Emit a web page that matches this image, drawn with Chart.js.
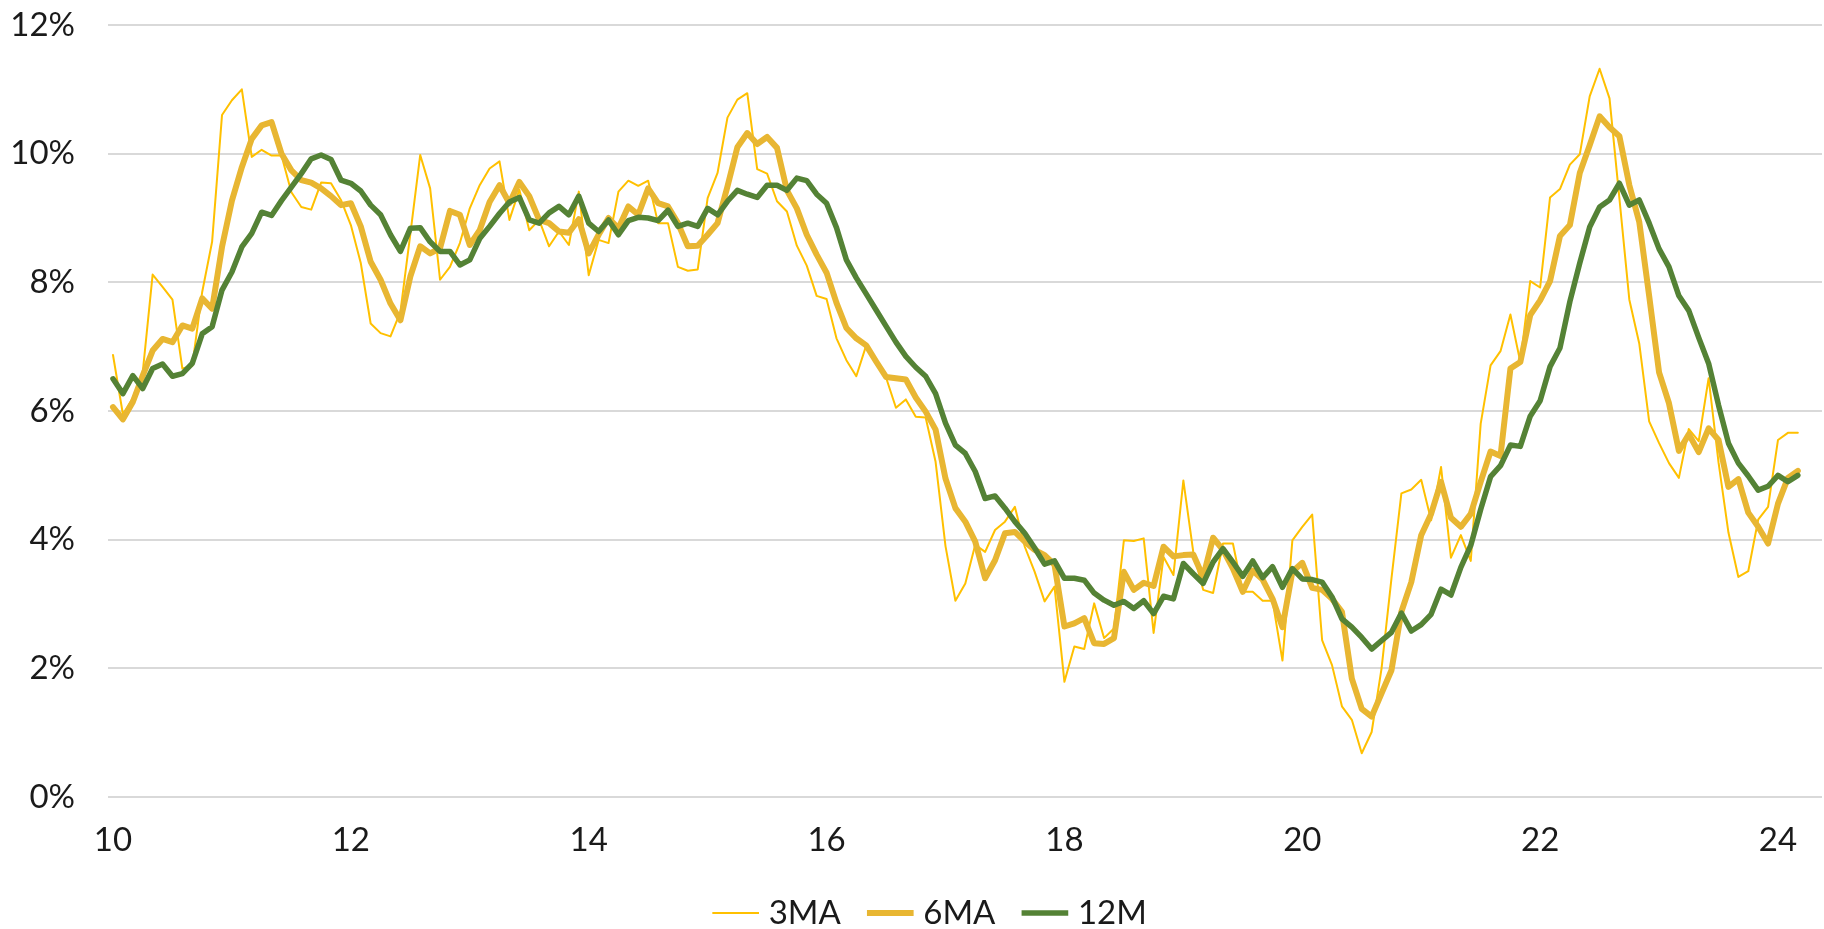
<!DOCTYPE html>
<html>
<head>
<meta charset="utf-8">
<title>3MA / 6MA / 12M</title>
<script src="https://cdn.jsdelivr.net/npm/chart.js"></script>
<style>
  html, body { margin: 0; padding: 0; background: #ffffff; }
  #chart { display: block; }
</style>
</head>
<body>
<canvas id="chart" width="1824" height="929"></canvas>
<script>
// Monthly series, first point = Jan 2010 (axis label "10")
const startYear = 10;

const series3MA = [
  6.87, 5.95, 6.20, 6.60, 8.12, 7.93, 7.73, 6.66, 6.70, 7.85,
  8.63, 10.60, 10.83, 11.00, 9.95, 10.06, 9.97, 9.97, 9.40, 9.17,
  9.13, 9.55, 9.54, 9.28, 8.89, 8.30, 7.36, 7.21, 7.16, 7.54,
  8.75, 9.98, 9.46, 8.04, 8.24, 8.61, 9.15, 9.51, 9.77, 9.88,
  8.97, 9.44, 8.81, 8.97, 8.56, 8.79, 8.58, 9.41, 8.11, 8.66,
  8.61, 9.41, 9.58, 9.50, 9.58, 8.92, 8.92, 8.24, 8.18, 8.20,
  9.31, 9.70, 10.56, 10.84, 10.94, 9.76, 9.69, 9.26, 9.10, 8.57,
  8.26, 7.79, 7.74, 7.13, 6.79, 6.54, 7.02, 6.77, 6.52, 6.05,
  6.18, 5.91, 5.90, 5.21, 3.90, 3.05, 3.32, 3.92, 3.81, 4.15,
  4.28, 4.51, 3.89, 3.50, 3.04, 3.27, 1.79, 2.34, 2.30, 3.01,
  2.47, 2.62, 3.99, 3.98, 4.02, 2.55, 3.73, 3.45, 4.92, 3.81,
  3.22, 3.17, 3.94, 3.94, 3.19, 3.19, 3.05, 3.05, 2.12, 3.99,
  4.20, 4.39, 2.44, 2.05, 1.41, 1.20, 0.68, 1.01, 2.00, 3.40,
  4.72, 4.78, 4.93, 4.30, 5.13, 3.72, 4.07, 3.67, 5.80, 6.71,
  6.93, 7.50, 6.76, 8.02, 7.92, 9.32, 9.45, 9.83, 9.99, 10.89,
  11.32, 10.86, 9.30, 7.73, 7.05, 5.84, 5.50, 5.19, 4.96, 5.72,
  5.53, 6.51, 5.20, 4.11, 3.42, 3.51, 4.31, 4.51, 5.55, 5.66, 5.66
];

const series6MA = [
  6.06, 5.87, 6.14, 6.55, 6.94, 7.12, 7.07, 7.33, 7.28, 7.75,
  7.59, 8.55, 9.27, 9.79, 10.23, 10.44, 10.49, 10.00, 9.74, 9.59,
  9.55, 9.46, 9.34, 9.20, 9.23, 8.87, 8.32, 8.04, 7.67, 7.41,
  8.09, 8.56, 8.45, 8.53, 9.11, 9.05, 8.58, 8.81, 9.25, 9.51,
  9.23, 9.56, 9.34, 8.97, 8.92, 8.79, 8.77, 8.98, 8.45, 8.74,
  9.00, 8.84, 9.18, 9.05, 9.46, 9.23, 9.18, 8.92, 8.56, 8.57,
  8.74, 8.92, 9.49, 10.10, 10.32, 10.15, 10.26, 10.09, 9.43, 9.15,
  8.74, 8.43, 8.15, 7.68, 7.29, 7.13, 7.02, 6.77, 6.53, 6.51,
  6.49, 6.21, 5.99, 5.71, 4.95, 4.49, 4.28, 3.97, 3.40, 3.68,
  4.10, 4.12, 3.97, 3.84, 3.76, 3.61, 2.65, 2.70, 2.78, 2.39,
  2.38, 2.47, 3.50, 3.22, 3.33, 3.28, 3.89, 3.74, 3.76, 3.77,
  3.42, 4.03, 3.84, 3.55, 3.19, 3.52, 3.38, 3.08, 2.64, 3.50,
  3.64, 3.25, 3.22, 3.08, 2.88, 1.84, 1.37, 1.25, 1.61, 1.97,
  2.88, 3.34, 4.07, 4.40, 4.90, 4.34, 4.20, 4.40, 4.90, 5.37,
  5.30, 6.66, 6.76, 7.49, 7.72, 8.02, 8.72, 8.89, 9.70, 10.13,
  10.58, 10.41, 10.27, 9.51, 8.94, 7.79, 6.60, 6.12, 5.38, 5.64,
  5.36, 5.73, 5.55, 4.82, 4.94, 4.42, 4.20, 3.94, 4.56, 4.96, 5.07
];

const series12M = [
  6.50, 6.27, 6.55, 6.35, 6.66, 6.73, 6.54, 6.58, 6.74, 7.20,
  7.31, 7.88, 8.16, 8.55, 8.76, 9.09, 9.04, 9.27, 9.48, 9.69,
  9.92, 9.98, 9.91, 9.59, 9.54, 9.42, 9.20, 9.05, 8.74, 8.48,
  8.84, 8.85, 8.63, 8.48, 8.48, 8.27, 8.35, 8.68, 8.87, 9.07,
  9.25, 9.32, 8.97, 8.92, 9.08, 9.18, 9.05, 9.34, 8.92, 8.79,
  8.97, 8.74, 8.96, 9.01, 9.00, 8.96, 9.12, 8.87, 8.92, 8.87,
  9.15, 9.05, 9.26, 9.43, 9.37, 9.32, 9.51, 9.51, 9.43, 9.62,
  9.58, 9.37, 9.23, 8.85, 8.35, 8.07, 7.82, 7.57, 7.32, 7.07,
  6.85, 6.68, 6.54, 6.27, 5.81, 5.47, 5.34, 5.06, 4.64, 4.68,
  4.49, 4.28, 4.10, 3.87, 3.62, 3.67, 3.40, 3.40, 3.37, 3.17,
  3.06, 2.98, 3.04, 2.93, 3.05, 2.85, 3.12, 3.08, 3.63, 3.47,
  3.32, 3.65, 3.86, 3.65, 3.43, 3.67, 3.41, 3.58, 3.26, 3.55,
  3.39, 3.38, 3.34, 3.11, 2.77, 2.64, 2.48, 2.30, 2.43, 2.56,
  2.86, 2.58, 2.68, 2.84, 3.23, 3.14, 3.57, 3.91, 4.47, 4.98,
  5.15, 5.47, 5.45, 5.92, 6.16, 6.69, 6.98, 7.70, 8.30, 8.86,
  9.17, 9.28, 9.54, 9.20, 9.28, 8.92, 8.52, 8.24, 7.79, 7.56,
  7.14, 6.74, 6.09, 5.50, 5.19, 4.99, 4.77, 4.83, 5.00, 4.90, 5.00
];

const xTicks = [10, 12, 14, 16, 18, 20, 22, 24];
const seriesNames = ['3MA', '6MA', '12M'];

const FONT = 'Lato, "Open Sans", sans-serif';
const TEXT = '#1a1a1a';

// month index -> fractional year on the axis
function toPoints(values) {
  return values.map((v, i) => ({ x: startYear + i / 12, y: v }));
}

// the legend in the original sits a little right of the page centre
const legendShift = {
  id: 'legendShift',
  afterLayout(chart) {
    const lg = chart.legend;
    if (!lg) return;
    lg.left += 22;
    lg.right += 22;
  }
};

const ctx = document.getElementById('chart');

new Chart(ctx, {
  type: 'line',
  data: {
    datasets: [
      {
        label: seriesNames[0],
        data: toPoints(series3MA),
        borderColor: '#FFC000',
        backgroundColor: '#FFC000',
        borderWidth: 2,
        order: 3
      },
      {
        label: seriesNames[1],
        data: toPoints(series6MA),
        borderColor: '#E8B632',
        backgroundColor: '#E8B632',
        borderWidth: 6,
        order: 2
      },
      {
        label: seriesNames[2],
        data: toPoints(series12M),
        borderColor: '#548235',
        backgroundColor: '#548235',
        borderWidth: 5.5,
        order: 1
      }
    ]
  },
  options: {
    responsive: false,
    animation: false,
    devicePixelRatio: 1,
    layout: { padding: { top: 25, left: 0, right: 2, bottom: -10.5 } },
    elements: {
      point: { radius: 0, hoverRadius: 0 },
      line: { tension: 0, borderJoinStyle: 'round', borderCapStyle: 'round', fill: false }
    },
    scales: {
      x: {
        type: 'linear',
        min: 9.958,
        max: 24.37,
        grid: { display: false, drawTicks: false },
        border: { display: false },
        afterBuildTicks: axis => { axis.ticks = xTicks.map(v => ({ value: v })); },
        afterFit: axis => {
          axis.height = 66.5;
          axis.paddingLeft = 0;
          axis.paddingRight = 0;
        },
        ticks: {
          autoSkip: false,
          maxRotation: 0,
          padding: 24,
          color: TEXT,
          font: { family: FONT, size: 33 },
          callback: v => String(v)
        }
      },
      y: {
        min: 0,
        max: 12,
        grid: { color: '#d9d9d9', lineWidth: 2, drawTicks: false },
        border: { display: false },
        afterFit: axis => {
          axis.width = 108;
          axis.paddingTop = 0;
          axis.paddingBottom = 0;
        },
        ticks: {
          stepSize: 2,
          padding: 33,
          color: TEXT,
          font: { family: FONT, size: 33 },
          callback: v => v + '%'
        }
      }
    },
    plugins: {
      tooltip: { enabled: false },
      legend: {
        position: 'bottom',
        reverse: true,
        labels: {
          usePointStyle: true,
          pointStyle: 'line',
          boxWidth: 33,
          boxHeight: 33,
          padding: 33,
          color: TEXT,
          font: { family: FONT, size: 33 }
        }
      }
    }
  },
  plugins: [legendShift]
});
</script>
</body>
</html>
